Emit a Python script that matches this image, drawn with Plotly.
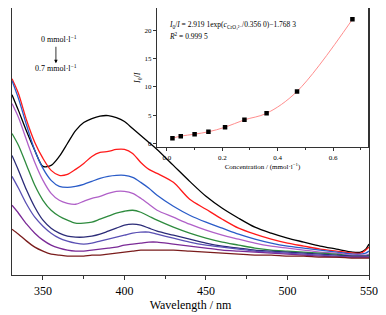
import plotly.graph_objects as go

wavelength = [331, 335, 340, 345, 350, 355, 360, 365, 370, 375, 380, 385, 390, 395, 400, 405, 410, 415, 420,
              430, 440, 450, 460, 470, 480, 490, 500, 510, 520, 530, 540, 545, 548, 550]

abs_0 = [1.81, 1.65, 1.44, 1.25, 1.09, 1.10, 1.19, 1.32, 1.45, 1.53, 1.57, 1.595, 1.60, 1.58, 1.54, 1.47, 1.40, 1.33, 1.26,
         1.10, 0.94, 0.79, 0.67, 0.57, 0.48, 0.42, 0.37, 0.33, 0.29, 0.26, 0.23, 0.23, 0.26, 0.31]
abs_1 = [1.97, 1.82, 1.55, 1.33, 1.17, 1.05, 1.00, 1.01, 1.06, 1.12, 1.19, 1.23, 1.24, 1.26, 1.26, 1.22, 1.13, 1.06, 1.02,
         0.93, 0.76, 0.66, 0.56, 0.47, 0.41, 0.36, 0.32, 0.29, 0.26, 0.24, 0.22, 0.22, 0.25, 0.28]
abs_2 = [1.95, 1.77, 1.50, 1.25, 1.07, 0.95, 0.89, 0.88, 0.89, 0.91, 0.94, 0.97, 0.99, 1.00, 1.00, 0.98, 0.93, 0.87, 0.80,
         0.69, 0.60, 0.53, 0.47, 0.41, 0.36, 0.32, 0.29, 0.27, 0.25, 0.23, 0.21, 0.21, 0.22, 0.24]
abs_3 = [1.72, 1.58, 1.35, 1.13, 0.95, 0.82, 0.75, 0.72, 0.71, 0.74, 0.77, 0.79, 0.82, 0.84, 0.84, 0.82, 0.77, 0.71, 0.65,
         0.58, 0.51, 0.45, 0.40, 0.36, 0.32, 0.29, 0.27, 0.25, 0.23, 0.22, 0.20, 0.20, 0.20, 0.21]
abs_4 = [1.42, 1.30, 1.10, 0.90, 0.75, 0.65, 0.59, 0.55, 0.52, 0.52, 0.53, 0.56, 0.59, 0.62, 0.64, 0.65, 0.63, 0.59, 0.55,
         0.48, 0.42, 0.37, 0.33, 0.30, 0.27, 0.25, 0.24, 0.23, 0.22, 0.21, 0.19, 0.19, 0.19, 0.20]
abs_5 = [1.20, 1.05, 0.85, 0.68, 0.55, 0.47, 0.42, 0.39, 0.38, 0.38, 0.39, 0.41, 0.44, 0.47, 0.50, 0.51, 0.50, 0.47, 0.44,
         0.40, 0.36, 0.32, 0.29, 0.27, 0.25, 0.24, 0.23, 0.22, 0.21, 0.20, 0.19, 0.19, 0.19, 0.19]
abs_6 = [0.99, 0.87, 0.71, 0.58, 0.49, 0.42, 0.37, 0.34, 0.32, 0.31, 0.32, 0.34, 0.36, 0.38, 0.40, 0.42, 0.43, 0.43, 0.41,
         0.37, 0.33, 0.30, 0.28, 0.26, 0.24, 0.23, 0.22, 0.21, 0.20, 0.19, 0.18, 0.18, 0.18, 0.18]
abs_7 = [0.70, 0.62, 0.51, 0.42, 0.35, 0.30, 0.27, 0.25, 0.24, 0.24, 0.25, 0.26, 0.27, 0.28, 0.30, 0.31, 0.32, 0.33, 0.33,
         0.31, 0.29, 0.27, 0.25, 0.24, 0.23, 0.22, 0.21, 0.20, 0.19, 0.18, 0.18, 0.18, 0.18, 0.18]
abs_8 = [0.46, 0.41, 0.34, 0.28, 0.24, 0.21, 0.20, 0.19, 0.19, 0.19, 0.20, 0.20, 0.21, 0.22, 0.23, 0.24, 0.25, 0.25, 0.25,
         0.25, 0.24, 0.23, 0.22, 0.21, 0.20, 0.20, 0.19, 0.19, 0.18, 0.18, 0.17, 0.17, 0.17, 0.17]

spectra = [abs_0, abs_1, abs_2, abs_3, abs_4, abs_5, abs_6, abs_7, abs_8]
colors = ["#000000", "#ff1a1a", "#2a5cc8", "#b060c8", "#2e8b3e", "#2c2c78", "#5a50b4", "#7a2a96", "#7a1c1c"]

conc = [0.02, 0.05, 0.10, 0.15, 0.21, 0.28, 0.36, 0.47, 0.67]
ratio = [0.93, 1.28, 1.63, 2.05, 2.86, 4.16, 5.32, 9.18, 21.9]

inset_xticks = [0.0, 0.2, 0.4, 0.6]
inset_yticks = [0, 5, 10, 15, 20]
main_xticks = [350, 400, 450, 500, 550]

FONT = "Times New Roman, Liberation Serif, DejaVu Serif, serif"

fig = go.Figure()
for ys, c in zip(spectra, colors):
    fig.add_trace(go.Scatter(x=wavelength, y=ys, mode="lines", line=dict(color=c, width=1.3, shape="spline", smoothing=0.8),
                             showlegend=False, hoverinfo="skip"))

fig.add_trace(go.Scatter(x=conc, y=ratio, mode="lines", line=dict(color="#ff8080", width=0.9, shape="spline", smoothing=1.0),
                         xaxis="x2", yaxis="y2", showlegend=False, hoverinfo="skip"))
fig.add_trace(go.Scatter(x=conc, y=ratio, mode="markers", marker=dict(symbol="square", size=4.5, color="black"),
                         xaxis="x2", yaxis="y2", showlegend=False, hoverinfo="skip"))

axis_line = dict(showline=True, linecolor="#333333", linewidth=1.3, mirror=True, showgrid=False, zeroline=False)

fig.update_layout(
    width=378, height=307,
    margin=dict(l=4, r=17, t=0, b=40),
    paper_bgcolor="white", plot_bgcolor="white",
    font=dict(family=FONT, color="black"),
    xaxis=dict(range=[331, 550], tickvals=main_xticks, ticks="outside", ticklen=4, tickcolor="#333333",
               minor=dict(dtick=25, tick0=325, ticks="outside", ticklen=3, tickcolor="#333333"),
               tickfont=dict(size=12, family=FONT, color="black"),
               title=dict(text="Wavelength / nm", font=dict(size=12, family=FONT, color="black"), standoff=2),
               **axis_line),
    yaxis=dict(range=[0, 2.68], showticklabels=False, ticks="", **axis_line),
    xaxis2=dict(domain=[0.406, 0.997], anchor="y2", range=[-0.036, 0.726], tickvals=inset_xticks,
                tickformat=".1f", ticks="outside", ticklen=3, tickcolor="#333333",
                minor=dict(dtick=0.1, tick0=0, ticks="outside", ticklen=2, tickcolor="#333333"),
                tickfont=dict(size=7, family=FONT, color="black"),
                title=dict(text="Concentration / (mmol·l<sup>−1</sup>)", font=dict(size=7, family=FONT, color="black"), standoff=1),
                showline=True, linecolor="#333333", linewidth=1, mirror=True, showgrid=False, zeroline=False),
    yaxis2=dict(domain=[0.478, 1.0], anchor="x2", range=[-0.7, 23.9], tickvals=inset_yticks,
                ticks="outside", ticklen=3, tickcolor="#333333",
                tickfont=dict(size=7, family=FONT, color="black"),
                title=dict(text="<i>I</i><sub>0</sub>/<i>I</i>", font=dict(size=8, family=FONT, color="black"), standoff=2),
                showline=True, linecolor="#333333", linewidth=1, mirror=True, showgrid=False, zeroline=False),
)

fig.add_annotation(xref="paper", yref="paper", x=0.434, y=0.937, xanchor="left", yanchor="middle", showarrow=False,
                   text="<i>I</i><sub>0</sub>/<i>I</i> = 2.919 1exp(<i>c</i><sub>CrO₄²⁻</sub>/0.356 0)−1.768 3",
                   font=dict(size=7.5, family=FONT, color="black"))
fig.add_annotation(xref="paper", yref="paper", x=0.434, y=0.896, xanchor="left", yanchor="middle", showarrow=False,
                   text="<i>R</i><sup>2</sup> = 0.999 5", font=dict(size=7.5, family=FONT, color="black"))
fig.add_annotation(xref="paper", yref="paper", x=0.132, y=0.884, xanchor="center", yanchor="middle", showarrow=False,
                   text="0 mmol·l<sup>−1</sup>", font=dict(size=8, family=FONT, color="black"))
fig.add_annotation(xref="paper", yref="paper", x=0.124, y=0.776, xanchor="center", yanchor="middle", showarrow=False,
                   text="0.7 mmol·l<sup>−1</sup>", font=dict(size=8, family=FONT, color="black"))
fig.add_annotation(xref="paper", yref="paper", x=0.123, y=0.793, ax=0, ay=-18, text="", showarrow=True,
                   arrowhead=2, arrowsize=0.9, arrowwidth=0.8, arrowcolor="black")

fig.write_html("out.html")
